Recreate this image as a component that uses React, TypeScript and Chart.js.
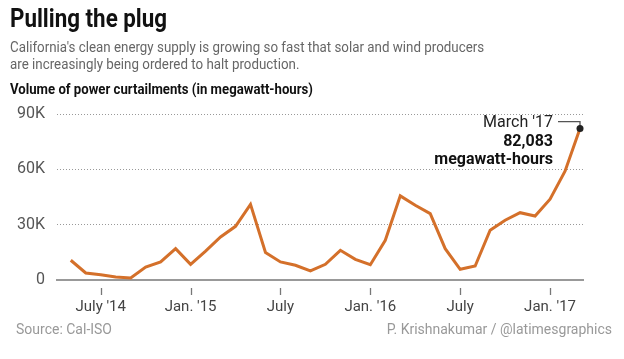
import React, { useEffect, useRef } from "react";
import { Chart, registerables } from "chart.js";

Chart.register(...registerables);

// Monthly curtailments, May 2014 .. March 2017 (megawatt-hours)
const curtailments: number[] = [
  10700, 3800, 2900, 1600, 1100, 7000, 9800, 17000,
  8500, 15700, 23300, 29100, 41000, 14900, 9800, 8000, 4900, 8500, 16100, 11200,
  8300, 21500, 45600, 40500, 36000, 17000, 5800, 7600, 27000, 32400, 36500, 34700,
  43800, 59000, 82083,
];
const xTickIndices: number[] = [2, 8, 14, 20, 26, 32];
const xTickLabels: string[] = ["July '14", "Jan. '15", "July", "Jan. '16", "July", "Jan. '17"];
const yTickValues: number[] = [0, 30000, 60000, 90000];
const yTickLabels: string[] = ["0", "30K", "60K", "90K"];
const annotationLines: string[] = ["March '17", "82,083", "megawatt-hours"];

const title = "Pulling the plug";
const subtitleLines: string[] = [
  "California's clean energy supply is growing so fast that solar and wind producers",
  "are increasingly being ordered to halt production.",
];
const chartLabel = "Volume of power curtailments (in megawatt-hours)";
const source = "Source: Cal-ISO";
const credit = "P. Krishnakumar / @latimesgraphics";

const FONT = "Roboto, 'Liberation Sans', sans-serif";

export default function App() {
  const ref = useRef<HTMLCanvasElement | null>(null);

  useEffect(() => {
    document.body.style.margin = "0";
    const canvas = ref.current;
    if (!canvas) return;

    const points = curtailments.map((v, i) => ({ x: i, y: v }));
    const lastIdx = curtailments.length - 1;

    const extras = {
      id: "extras",
      afterDatasetsDraw(chart: any) {
        const ctx = chart.ctx;
        const xs = chart.scales.x;
        const ys = chart.scales.y;
        ctx.save();
        ctx.strokeStyle = "#777";
        ctx.lineWidth = 1.3;
        xTickIndices.forEach((i) => {
          const px = Math.round(xs.getPixelForValue(i)) + 0.5;
          ctx.beginPath();
          ctx.moveTo(px, ys.bottom + 8);
          ctx.lineTo(px, ys.bottom + 15);
          ctx.stroke();
        });
        const px = xs.getPixelForValue(lastIdx);
        const py = ys.getPixelForValue(curtailments[lastIdx]);
        ctx.strokeStyle = "#555";
        ctx.lineWidth = 1.3;
        ctx.beginPath();
        ctx.moveTo(px - 22, py - 7);
        ctx.lineTo(px, py - 7);
        ctx.lineTo(px, py);
        ctx.stroke();
        ctx.fillStyle = "#222";
        ctx.beginPath();
        ctx.arc(px, py, 3.5, 0, Math.PI * 2);
        ctx.fill();
        ctx.textAlign = "right";
        ctx.textBaseline = "middle";
        const tx = px - 27;
        ctx.font = `16px ${FONT}`;
        ctx.fillStyle = "#222";
        ctx.fillText(annotationLines[0], tx, py - 6);
        ctx.font = `bold 16px ${FONT}`;
        ctx.fillStyle = "#111";
        ctx.fillText(annotationLines[1], tx, py + 13);
        ctx.fillText(annotationLines[2], tx, py + 31);
        ctx.restore();
      },
    };

    const chart = new Chart(canvas, {
      type: "line",
      data: {
        datasets: [
          {
            data: points,
            borderColor: "#d4702a",
            borderWidth: 3,
            pointRadius: 0,
            tension: 0,
            fill: false,
          },
        ],
      },
      options: {
        animation: false,
        responsive: false,
        maintainAspectRatio: false,
        layout: { padding: { left: 0, right: 41, top: 114, bottom: 0 } },
        plugins: { legend: { display: false }, tooltip: { enabled: false } },
        scales: {
          x: {
            type: "linear",
            min: -0.92,
            max: 34.2,
            afterFit: (s: any) => {
              s.height = 79;
            },
            afterBuildTicks: (s: any) => {
              s.ticks = xTickIndices.map((v) => ({ value: v }));
            },
            ticks: {
              autoSkip: false,
              maxRotation: 0,
              padding: 18,
              color: "#444",
              font: { family: FONT, size: 15 },
              callback: (v: any) => {
                const k = xTickIndices.indexOf(Number(v));
                return k >= 0 ? xTickLabels[k] : "";
              },
            },
            grid: { display: false, drawTicks: false },
            border: { display: true, color: "#999", width: 2 },
          },
          y: {
            min: 0,
            max: 90000,
            afterFit: (s: any) => {
              s.width = 57;
            },
            afterBuildTicks: (s: any) => {
              s.ticks = yTickValues.map((v) => ({ value: v }));
            },
            ticks: {
              padding: 12,
              color: "#555",
              font: { family: FONT, size: 16 },
              callback: (v: any) => {
                const k = yTickValues.indexOf(Number(v));
                return k >= 0 ? yTickLabels[k] : "";
              },
            },
            grid: {
              drawTicks: false,
              color: (c: any) => (c.tick && c.tick.value === 0 ? "rgba(0,0,0,0)" : "#999"),
              lineWidth: 1,
            },
            border: { display: false, dash: [1, 2] },
          },
        },
      },
      plugins: [extras],
    });

    return () => chart.destroy();
  }, []);

  const squeeze = (sx: number): React.CSSProperties => ({
    transform: `scaleX(${sx})`,
    transformOrigin: "left top",
    whiteSpace: "nowrap",
  });

  return (
    <div style={{ position: "relative", width: 624, height: 359, background: "#fff", overflow: "hidden" }}>
      <canvas ref={ref} width={624} height={359} style={{ position: "absolute", left: 0, top: 0 }} />
      <div
        style={{
          position: "absolute", left: 10, top: 3, fontFamily: FONT, fontWeight: "bold",
          fontSize: 26, color: "#111", lineHeight: "30px", ...squeeze(0.86),
        }}
      >
        {title}
      </div>
      {subtitleLines.map((line, i) => (
        <div
          key={i}
          style={{
            position: "absolute", left: 10, top: 37.5 + i * 17.4, fontFamily: FONT,
            fontSize: 15, color: "#666", lineHeight: "18px", ...squeeze(0.89),
          }}
        >
          {line}
        </div>
      ))}
      <div
        style={{
          position: "absolute", left: 10, top: 80, fontFamily: FONT, fontWeight: "bold",
          fontSize: 15.5, color: "#111", lineHeight: "18px", ...squeeze(0.85),
        }}
      >
        {chartLabel}
      </div>
      <div
        style={{
          position: "absolute", left: 16, top: 320, fontFamily: FONT, fontSize: 14,
          color: "#999", lineHeight: "18px", whiteSpace: "nowrap",
        }}
      >
        {source}
      </div>
      <div
        style={{
          position: "absolute", right: 12, top: 320, fontFamily: FONT, fontSize: 14,
          color: "#999", lineHeight: "18px", whiteSpace: "nowrap",
        }}
      >
        {credit}
      </div>
    </div>
  );
}
